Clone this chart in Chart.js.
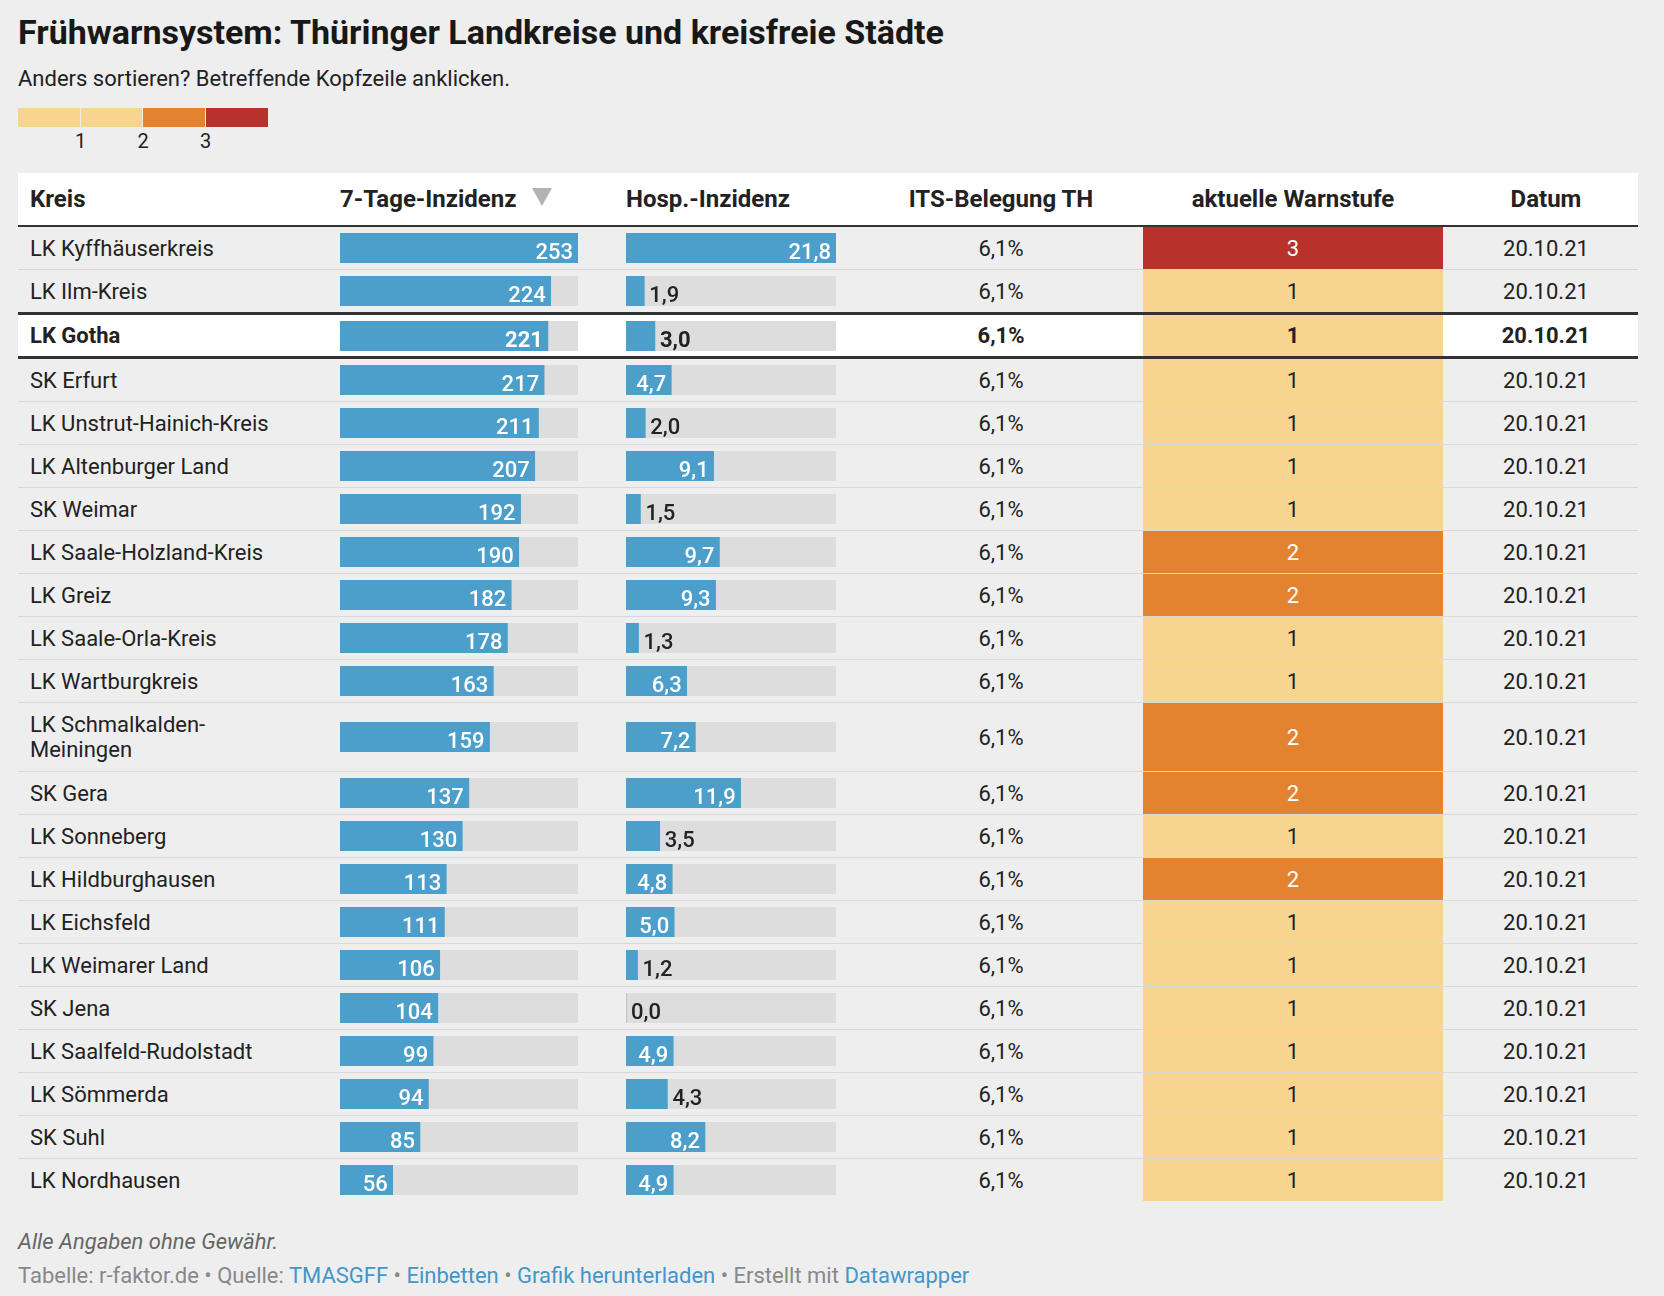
<!DOCTYPE html>
<html lang="de">
<head>
<meta charset="utf-8">
<title>Frühwarnsystem Thüringen</title>
<script src="https://cdn.jsdelivr.net/npm/chart.js@4.4.0/dist/chart.umd.min.js"></script>
<style>
  html, body { margin: 0; padding: 0; background: #eeeeee; }
  body { width: 1664px; height: 1296px; position: relative; font-family: Roboto, "Noto Sans", sans-serif; color: #222; overflow: hidden; }
  .abs { position: absolute; }
  #title { left: 18px; top: 12px; font-size: 34px; font-weight: bold; color: #181818; line-height: 40px; white-space: nowrap; }
  #subtitle { left: 18px; top: 66px; font-size: 22px; line-height: 26px; color: #222; white-space: nowrap; }
  .lgbox { top: 108px; height: 19px; }
  .lgtick { top: 129px; font-size: 20px; line-height: 24px; width: 40px; margin-left: -20px; text-align: center; color: #222; }
  #table { left: 18px; top: 173px; width: 1620px; }
  .row { position: relative; width: 1620px; }
  .head { height: 52px; background: #fff; border-bottom: 2px solid #333; font-weight: bold; }
  .head .cell { font-size: 24px; }
  .cell { position: absolute; top: 0; bottom: 0; display: flex; align-items: center; font-size: 22px; line-height: 25px; }
  .c { justify-content: center; text-align: center; }
  .sep { border-bottom: 1px solid #d9d9d9; }
  .hl { background: #fff; border-top: 3px solid #333; border-bottom: 3px solid #333; font-weight: bold; }
  .bar { position: absolute; }
  #tri { left: 514px; top: 15px; width: 0; height: 0; border-left: 10px solid transparent; border-right: 10px solid transparent; border-top: 18px solid #b3b3b3; }
  #notes { left: 18px; top: 1229px; font-size: 22px; line-height: 26px; font-style: italic; color: #666; white-space: nowrap; }
  #byline { left: 18px; top: 1263px; font-size: 22px; line-height: 26px; color: #888; white-space: nowrap; }
  #byline a { color: #4396c9; text-decoration: none; }
</style>
</head>
<body>
<div id="title" class="abs">Frühwarnsystem: Thüringer Landkreise und kreisfreie Städte</div>
<div id="subtitle" class="abs">Anders sortieren? Betreffende Kopfzeile anklicken.</div>
<div id="legend"></div>
<div id="table" class="abs"></div>
<div id="notes" class="abs">Alle Angaben ohne Gewähr.</div>
<div id="byline" class="abs">Tabelle: r-faktor.de • Quelle: <a>TMASGFF</a> • <a>Einbetten</a> • <a>Grafik herunterladen</a> • Erstellt mit <a>Datawrapper</a></div>
<script>
'use strict';
// Daten der Tabelle
const kreise = ['LK Kyffhäuserkreis', 'LK Ilm-Kreis', 'LK Gotha', 'SK Erfurt', 'LK Unstrut-Hainich-Kreis',
  'LK Altenburger Land', 'SK Weimar', 'LK Saale-Holzland-Kreis', 'LK Greiz', 'LK Saale-Orla-Kreis',
  'LK Wartburgkreis', 'LK Schmalkalden-Meiningen', 'SK Gera', 'LK Sonneberg', 'LK Hildburghausen',
  'LK Eichsfeld', 'LK Weimarer Land', 'SK Jena', 'LK Saalfeld-Rudolstadt', 'LK Sömmerda', 'SK Suhl', 'LK Nordhausen'];
const inzidenz = [253, 224, 221, 217, 211, 207, 192, 190, 182, 178, 163, 159, 137, 130, 113, 111, 106, 104, 99, 94, 85, 56];
const hospInzidenz = [21.8, 1.9, 3.0, 4.7, 2.0, 9.1, 1.5, 9.7, 9.3, 1.3, 6.3, 7.2, 11.9, 3.5, 4.8, 5.0, 1.2, 0.0, 4.9, 4.3, 8.2, 4.9];
const itsBelegung = [6.1, 6.1, 6.1, 6.1, 6.1, 6.1, 6.1, 6.1, 6.1, 6.1, 6.1, 6.1, 6.1, 6.1, 6.1, 6.1, 6.1, 6.1, 6.1, 6.1, 6.1, 6.1];
const warnstufe = [3, 1, 1, 1, 1, 1, 1, 2, 2, 1, 1, 2, 2, 1, 2, 1, 1, 1, 1, 1, 1, 1];
const datum = ['20.10.21', '20.10.21', '20.10.21', '20.10.21', '20.10.21', '20.10.21', '20.10.21', '20.10.21',
  '20.10.21', '20.10.21', '20.10.21', '20.10.21', '20.10.21', '20.10.21', '20.10.21', '20.10.21',
  '20.10.21', '20.10.21', '20.10.21', '20.10.21', '20.10.21', '20.10.21'];
const hervorgehoben = 'LK Gotha';
const spalten = ['Kreis', '7-Tage-Inzidenz', 'Hosp.-Inzidenz', 'ITS-Belegung TH', 'aktuelle Warnstufe', 'Datum'];
// Farbskala der Warnstufen
const legendFarben = ['#f8d58f', '#f8d58f', '#e3822f', '#b8312b'];
const legendTicks = ['1', '2', '3'];
const stufenFarben = { 1: '#f8d58f', 2: '#e3822f', 3: '#b8312b' };

const BLUE = '#4b9fca';
const GREY = '#dddddd';

function fmt1(v) {
  return v.toFixed(1).replace('.', ',');
}

// Legende
const legend = document.getElementById('legend');
legendFarben.forEach(function (c, i) {
  const d = document.createElement('div');
  d.className = 'abs lgbox';
  d.style.left = (18 + i * 62.5) + 'px';
  d.style.width = (i < legendFarben.length - 1 ? 61.5 : 62.5) + 'px';
  d.style.background = c;
  legend.appendChild(d);
});
legendTicks.forEach(function (t, i) {
  const d = document.createElement('div');
  d.className = 'abs lgtick';
  d.style.left = (18 + (i + 1) * 62.5) + 'px';
  d.textContent = t;
  legend.appendChild(d);
});

// Beschriftung der Balken (innen weiß, sonst außen dunkel)
const labelPlugin = {
  id: 'barLabel',
  afterDatasetsDraw(chart, args, opts) {
    const ctx = chart.ctx;
    const meta = chart.getDatasetMeta(1);
    const bar = meta.data[0];
    const text = opts.text;
    ctx.save();
    ctx.font = (opts.bold ? 'bold ' : '500 ') + '22px Roboto, "Noto Sans", sans-serif';
    const tw = ctx.measureText(text).width;
    const w = bar.x - bar.base;
    const y = bar.y + bar.height / 2 - 4;
    ctx.textBaseline = 'alphabetic';
    if (w >= tw + 14) {
      ctx.fillStyle = '#ffffff';
      ctx.textAlign = 'right';
      ctx.fillText(text, bar.x - 5, y);
    } else {
      ctx.fillStyle = '#222222';
      ctx.textAlign = 'left';
      ctx.fillText(text, bar.x + 5, y);
    }
    ctx.restore();
  }
};

function makeBar(canvas, value, max, text, bold) {
  return new Chart(canvas, {
    type: 'bar',
    data: {
      labels: [''],
      datasets: [
        { data: [max], backgroundColor: GREY, grouped: false, order: 1 },
        { data: [value], backgroundColor: BLUE, grouped: false, order: 0 }
      ]
    },
    options: {
      indexAxis: 'y',
      responsive: false,
      animation: false,
      events: [],
      barPercentage: 1,
      categoryPercentage: 1,
      layout: { padding: 0 },
      plugins: {
        legend: { display: false },
        tooltip: { enabled: false },
        barLabel: { text: text, bold: bold }
      },
      scales: {
        x: { display: false, min: 0, max: max },
        y: { display: false }
      }
    },
    plugins: [labelPlugin]
  });
}

// Tabelle aufbauen
const table = document.getElementById('table');
function addCell(row, left, width, html, center, style) {
  const c = document.createElement('div');
  c.className = 'cell' + (center ? ' c' : '');
  c.style.left = left + 'px';
  c.style.width = width + 'px';
  if (style) Object.assign(c.style, style);
  c.innerHTML = html;
  row.appendChild(c);
  return c;
}

const head = document.createElement('div');
head.className = 'row head';
table.appendChild(head);
addCell(head, 12, 300, spalten[0], false);
addCell(head, 322, 240, spalten[1], false);
const tri = document.createElement('div');
tri.id = 'tri';
tri.className = 'abs';
head.appendChild(tri);
addCell(head, 608, 240, spalten[2], false);
addCell(head, 863, 240, spalten[3], true);
addCell(head, 1105, 340, spalten[4], true);
addCell(head, 1428, 200, spalten[5], true);

const maxInz = Math.max.apply(null, inzidenz);
const maxHosp = Math.max.apply(null, hospInzidenz);

kreise.forEach(function (name, i) {
  const row = document.createElement('div');
  const isHl = name === hervorgehoben;
  const nextHl = kreise[i + 1] === hervorgehoben;
  const last = i === kreise.length - 1;
  row.className = 'row' + (isHl ? ' hl' : (nextHl || last ? '' : ' sep'));
  const tall = name.length > 24;
  row.style.height = (isHl ? 41 : (tall ? 68 : 42)) + 'px';
  table.appendChild(row);

  addCell(row, 12, 260, name, false);

  const bh = 30;
  const c1 = document.createElement('canvas');
  c1.className = 'bar';
  c1.width = 238; c1.height = bh;
  c1.style.left = '322px';
  c1.style.top = 'calc(50% - ' + (bh / 2) + 'px)';
  row.appendChild(c1);
  makeBar(c1, inzidenz[i], maxInz, String(inzidenz[i]), isHl);

  const c2 = document.createElement('canvas');
  c2.className = 'bar';
  c2.width = 210; c2.height = bh;
  c2.style.left = '608px';
  c2.style.top = 'calc(50% - ' + (bh / 2) + 'px)';
  row.appendChild(c2);
  makeBar(c2, hospInzidenz[i], maxHosp, fmt1(hospInzidenz[i]), isHl);

  addCell(row, 883, 200, fmt1(itsBelegung[i]) + '%', true);
  const s = warnstufe[i];
  addCell(row, 1125, 300, String(s), true, {
    background: stufenFarben[s],
    color: s >= 2 ? '#ffffff' : '#222222'
  });
  addCell(row, 1428, 200, datum[i], true);
});
</script>
</body>
</html>
